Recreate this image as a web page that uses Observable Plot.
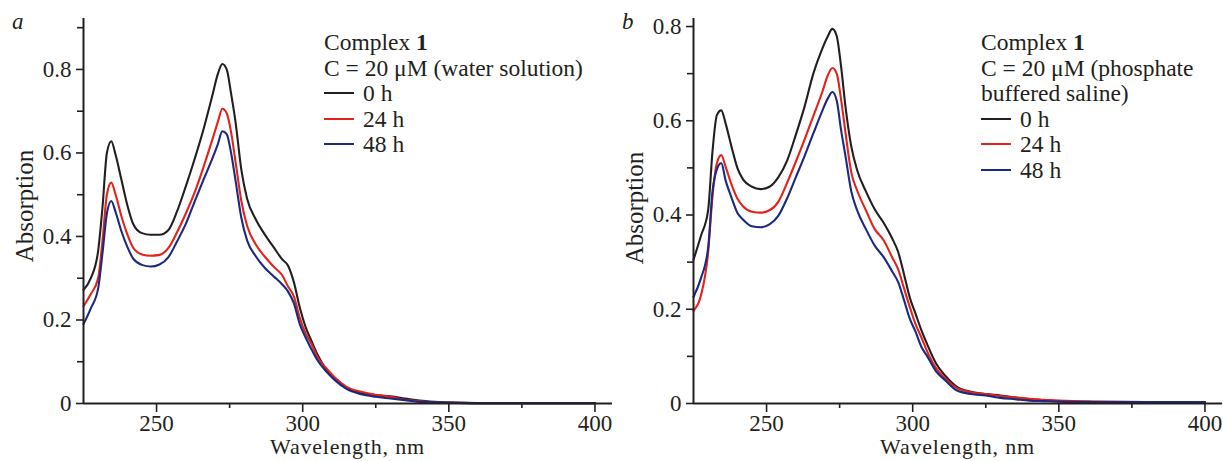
<!DOCTYPE html>
<html>
<head>
<meta charset="utf-8">
<script src="https://cdn.jsdelivr.net/npm/d3@7"></script>
<script src="https://cdn.jsdelivr.net/npm/@observablehq/plot@0.6"></script>
<style>
  html, body { margin: 0; padding: 0; background: #fff; }
  #wrap { position: relative; width: 1223px; height: 461px; overflow: hidden; background: #fff;
          font-family: "Liberation Serif", "DejaVu Serif", serif; color: #231f20; }
  #wrap svg, #wrap svg text { font-family: "Liberation Serif", "DejaVu Serif", serif !important; font-size: 23px !important; }
  .panel { position: absolute; top: 0; }
  .tag { position: absolute; font-style: italic; font-size: 23px; line-height: 1; }
  .legend { position: absolute; font-size: 23.5px; line-height: 25.5px; white-space: nowrap; }
  .sw { display: inline-block; width: 30px; height: 2px; vertical-align: 7px; margin-right: 9px; }
  .ytitle { position: absolute; font-size: 25px; line-height: 1; white-space: nowrap;
            transform: translate(-50%, -50%) rotate(-90deg); }
  .xtitle { position: absolute; font-size: 22px; letter-spacing: 0.8px; line-height: 1; white-space: nowrap;
            transform: translateX(-50%); }
</style>
</head>
<body>
<div id="wrap"></div>
<script>
// ---- data ----
const wavelength = [225, 227.5, 230, 231.5, 233, 234.5, 236, 238, 240, 242, 245, 248, 251, 254, 257, 260, 263, 266, 269, 271, 272.5, 274, 275.5, 277, 279, 281, 284, 287, 290, 293, 295, 297, 299, 301, 303, 305, 308, 311, 315, 320, 325, 330, 335, 340, 345, 350, 360, 380, 400];

// panel a: water solution
const water0h  = [0.272, 0.300, 0.365, 0.470, 0.600, 0.628, 0.595, 0.535, 0.475, 0.430, 0.408, 0.404, 0.404, 0.415, 0.460, 0.520, 0.585, 0.655, 0.735, 0.790, 0.813, 0.800, 0.742, 0.675, 0.560, 0.490, 0.440, 0.405, 0.375, 0.345, 0.330, 0.290, 0.230, 0.183, 0.150, 0.118, 0.082, 0.058, 0.038, 0.026, 0.020, 0.017, 0.012, 0.007, 0.004, 0.002, 0.001, 0.001, 0.001];
const water24h = [0.233, 0.262, 0.300, 0.390, 0.500, 0.529, 0.500, 0.448, 0.405, 0.373, 0.357, 0.354, 0.356, 0.372, 0.410, 0.455, 0.505, 0.565, 0.630, 0.675, 0.706, 0.695, 0.650, 0.580, 0.485, 0.425, 0.380, 0.352, 0.328, 0.307, 0.280, 0.256, 0.205, 0.168, 0.143, 0.112, 0.085, 0.062, 0.040, 0.028, 0.021, 0.016, 0.009, 0.005, 0.003, 0.002, 0.001, 0.001, 0.001];
const water48h = [0.190, 0.228, 0.275, 0.360, 0.455, 0.485, 0.458, 0.412, 0.375, 0.347, 0.332, 0.328, 0.333, 0.350, 0.388, 0.430, 0.483, 0.535, 0.585, 0.622, 0.652, 0.645, 0.600, 0.535, 0.445, 0.390, 0.352, 0.325, 0.305, 0.285, 0.268, 0.240, 0.190, 0.158, 0.130, 0.104, 0.077, 0.056, 0.035, 0.022, 0.016, 0.012, 0.008, 0.004, 0.003, 0.002, 0.001, 0.001, 0.001];

// panel b: phosphate buffered saline
const pbs0h  = [0.305, 0.355, 0.410, 0.535, 0.612, 0.622, 0.594, 0.545, 0.500, 0.475, 0.460, 0.455, 0.460, 0.480, 0.515, 0.570, 0.630, 0.700, 0.752, 0.780, 0.795, 0.780, 0.715, 0.630, 0.545, 0.495, 0.450, 0.412, 0.384, 0.350, 0.322, 0.275, 0.225, 0.190, 0.155, 0.125, 0.085, 0.060, 0.036, 0.025, 0.020, 0.017, 0.013, 0.009, 0.007, 0.005, 0.004, 0.003, 0.003];
const pbs24h = [0.197, 0.228, 0.320, 0.440, 0.510, 0.527, 0.502, 0.465, 0.435, 0.418, 0.407, 0.405, 0.410, 0.428, 0.468, 0.513, 0.560, 0.610, 0.660, 0.697, 0.712, 0.700, 0.645, 0.575, 0.490, 0.452, 0.410, 0.370, 0.347, 0.310, 0.285, 0.245, 0.205, 0.168, 0.140, 0.110, 0.075, 0.054, 0.033, 0.024, 0.020, 0.016, 0.013, 0.010, 0.008, 0.006, 0.004, 0.003, 0.003];
const pbs48h = [0.226, 0.265, 0.330, 0.450, 0.497, 0.510, 0.473, 0.437, 0.405, 0.390, 0.376, 0.374, 0.380, 0.398, 0.435, 0.480, 0.525, 0.573, 0.620, 0.648, 0.661, 0.643, 0.580, 0.525, 0.450, 0.410, 0.370, 0.335, 0.311, 0.280, 0.258, 0.220, 0.180, 0.152, 0.120, 0.100, 0.068, 0.050, 0.028, 0.020, 0.017, 0.012, 0.009, 0.006, 0.005, 0.004, 0.003, 0.003, 0.003];

const seriesNames = ["0 h", "24 h", "48 h"];
const seriesColors = ["#231f20", "#e2231a", "#1b2a80"];
const xMajor = [250, 300, 350, 400];
const xMinor = [275, 325, 375];
const yMajor = [0, 0.2, 0.4, 0.6, 0.8];
const yMinorA = [0.1, 0.3, 0.5, 0.7, 0.9];
const yMinorB = [0.1, 0.3, 0.5, 0.7];
const xTitle = "Wavelength, nm";
const yTitle = "Absorption";

function toRows(arrays) {
  const rows = [];
  arrays.forEach((vals, s) => vals.forEach((v, i) => rows.push({wl: wavelength[i], a: v, series: seriesNames[s]})));
  return rows;
}

const ink = "#231f20";
function panel(rows, yMax, yMinor) {
  return Plot.plot({
    width: 615, height: 461,
    marginLeft: 83, marginRight: 3, marginTop: 18, marginBottom: 58,
    x: {domain: [225, 406]},
    y: {domain: [0, yMax]},
    color: {domain: seriesNames, range: seriesColors},
    style: {fontFamily: "Liberation Serif, serif", fontSize: "23px", color: ink, background: "transparent", overflow: "visible"},
    marks: [
      Plot.axisY(yMajor, {tickSize: 7, tickPadding: 5, strokeWidth: 1.6,
        tickFormat: d => d === 0 ? "0" : d.toFixed(1), label: null}),
      Plot.axisY(yMinor, {tickSize: 6, strokeWidth: 1.6, tickFormat: () => "", label: null}),
      Plot.axisX(xMajor, {tickSize: 9, tickPadding: 2.5, strokeWidth: 1.6, label: null}),
      Plot.axisX(xMinor, {tickSize: 5, strokeWidth: 1.6, tickFormat: () => "", label: null}),
      Plot.line(rows, {x: "wl", y: "a", z: "series", stroke: "series", strokeWidth: 2.1, curve: "monotone-x"}),
      Plot.ruleX([225], {stroke: ink, strokeWidth: 2}),
      Plot.ruleY([0], {stroke: ink, strokeWidth: 2})
    ]
  });
}

const wrap = document.getElementById("wrap");
function addDiv(cls, html, left, top) {
  const d = document.createElement("div");
  d.className = cls; d.innerHTML = html;
  d.style.left = left + "px"; d.style.top = top + "px";
  wrap.appendChild(d);
  return d;
}

const pa = panel(toRows([water0h, water24h, water48h]), 0.922, yMinorA);
pa.classList.add("panel"); pa.style.left = "0px";
wrap.appendChild(pa);
const pb = panel(toRows([pbs0h, pbs24h, pbs48h]), 0.817, yMinorB);
pb.classList.add("panel"); pb.style.left = "610px";
wrap.appendChild(pb);

// axis titles
addDiv("ytitle", yTitle, 24, 206);
addDiv("ytitle", yTitle, 634, 208);
addDiv("xtitle", xTitle, 347.5, 436.3);
addDiv("xtitle", xTitle, 957.5, 436.3);

// panel tags
addDiv("tag", "a", 12, 10);
addDiv("tag", "b", 622, 10);

function addLegend(left, headLines) {
  let html = headLines.join("<br>");
  seriesNames.forEach((s, i) => {
    html += `<br><span class="sw" style="background:${seriesColors[i]}"></span>${s}`;
  });
  addDiv("legend", html, left, 30);
}
addLegend(324, ["Complex <b>1</b>", "C = 20 μM (water solution)"]);
addLegend(981, ["Complex <b>1</b>", "C = 20 μM (phosphate", "buffered saline)"]);
</script>
</body>
</html>
